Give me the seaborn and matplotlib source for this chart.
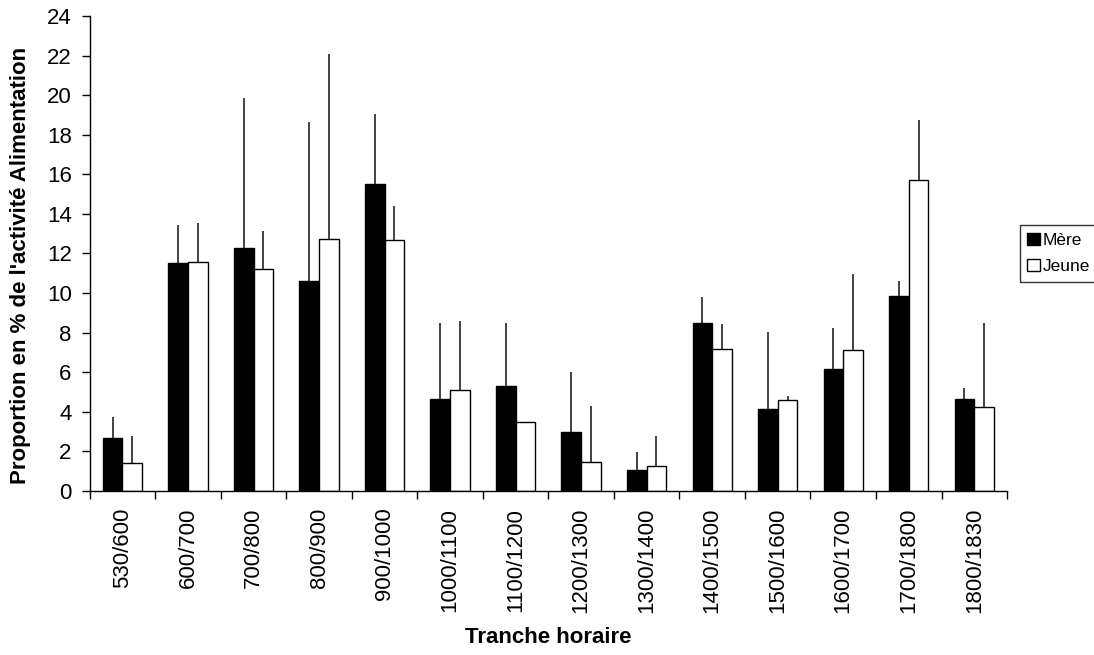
import matplotlib
matplotlib.use("Agg")
import matplotlib.pyplot as plt
from matplotlib.patches import Patch
import pandas as pd
import seaborn as sns

tranches = ["530/600", "600/700", "700/800", "800/900", "900/1000", "1000/1100",
            "1100/1200", "1200/1300", "1300/1400", "1400/1500", "1500/1600",
            "1600/1700", "1700/1800", "1800/1830"]
mere = [2.69, 11.54, 12.29, 10.59, 15.51, 4.63, 5.32, 3.00, 1.06, 8.49, 4.16, 6.15, 9.84, 4.63]
mere_err = [1.05, 1.90, 7.55, 8.07, 3.52, 3.86, 3.17, 3.03, 0.93, 1.30, 3.86, 2.10, 0.75, 0.57]
jeune = [1.40, 11.57, 11.23, 12.75, 12.70, 5.09, 3.50, 1.45, 1.28, 7.19, 4.61, 7.12, 15.73, 4.26]
jeune_err = [1.36, 1.95, 1.89, 9.33, 1.68, 3.50, 0.0, 2.83, 1.48, 1.25, 0.17, 3.83, 3.00, 4.23]

df = pd.DataFrame({
    "Tranche": tranches * 2,
    "Proportion": mere + jeune,
    "Individu": ["Mère"] * len(tranches) + ["Jeune"] * len(tranches),
})

sns.set_style("ticks")
plt.rcParams["font.family"] = ["Liberation Sans", "DejaVu Sans"]
plt.rcParams["text.color"] = "black"
plt.rcParams["axes.labelcolor"] = "black"
plt.rcParams["xtick.color"] = "black"
plt.rcParams["ytick.color"] = "black"

fig = plt.figure(figsize=(10.94, 6.55), dpi=100)
ax = fig.add_axes([0.082, 0.2504, 0.8385, 0.7252])

palette = {"Mère": "black", "Jeune": "white"}
sns.barplot(data=df, x="Tranche", y="Proportion", hue="Individu", palette=palette,
            edgecolor="black", linewidth=1, width=0.6, errorbar=None,
            legend=False, ax=ax)

# error bars: upper side only, no caps
for cont, errs in zip(ax.containers, [mere_err, jeune_err]):
    xs = [b.get_x() + b.get_width() / 2 for b in cont]
    ys = [b.get_height() for b in cont]
    ax.errorbar(xs, ys, yerr=[[0] * len(errs), errs], fmt="none",
                ecolor="#222222", elinewidth=1.2, capsize=0, zorder=1)

ax.set_xlim(-0.5, len(tranches) - 0.5)
ax.set_ylim(0, 24)
ax.set_yticks(range(0, 25, 2))
ax.set_xticks(range(len(tranches)))
ax.set_xticklabels(tranches, rotation=90)
ax.set_xticks([i - 0.5 for i in range(len(tranches) + 1)], minor=True)
ax.tick_params(axis="x", which="major", length=0, pad=12, labelsize=16)
ax.tick_params(axis="x", which="minor", length=6, width=1, direction="out")
ax.tick_params(axis="y", length=6, width=1, direction="out", labelsize=16, pad=7)

for side in ["left", "bottom"]:
    ax.spines[side].set_color("black")
    ax.spines[side].set_linewidth(1)
sns.despine(ax=ax)

ax.set_xlabel("Tranche horaire", fontsize=16, fontweight="bold", labelpad=10)
ax.set_ylabel("Proportion en % de l'activité Alimentation", fontsize=16,
              fontweight="bold")
ax.yaxis.set_label_coords(-0.064, 0.475)

handles = [Patch(facecolor="black", edgecolor="black", label="Mère"),
           Patch(facecolor="white", edgecolor="black", label="Jeune")]
leg = fig.legend(handles=handles, loc="upper left", bbox_to_anchor=(0.932, 0.656),
                 frameon=True, fancybox=False, fontsize=12.5, handlelength=0.7,
                 handleheight=0.7, handletextpad=0.2, borderpad=0.45,
                 labelspacing=0.6, borderaxespad=0)
leg.get_frame().set_edgecolor("black")
leg.get_frame().set_linewidth(1)

fig.savefig("out.png", dpi=100)
